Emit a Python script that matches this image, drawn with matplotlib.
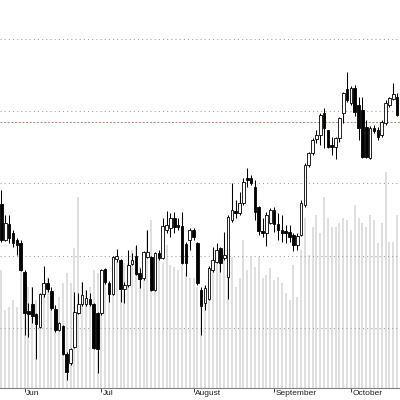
import matplotlib
matplotlib.use("Agg")
import matplotlib.pyplot as plt
import matplotlib.transforms as mtransforms
import numpy as np

# OHLC values (price units; chart has no visible price scale)
opens = [184, 148, 164, 155, 148, 145, 116, 77, 84, 74,
         61, 94, 105, 97, 79, 58, 62, 34, 25, 41,
         75, 84, 84, 89, 84, 75, 75, 119, 105, 94,
         129, 128, 99, 103, 124, 132, 115, 110, 131, 131,
         98, 135, 130, 158, 160, 170, 163, 162, 144, 148,
         158, 145, 98, 85, 89, 118, 126, 140, 130, 111,
         168, 177, 175, 185, 210, 210, 201, 181, 157, 155,
         165, 178, 164, 158, 157, 156, 153, 143, 153, 183,
         223, 235, 249, 253, 275, 258, 243, 241, 250, 275,
         299, 285, 300, 283, 278, 261, 230, 260, 258, 253,
         265, 283, 289, 291]
highs = [198, 173, 173, 158, 150, 148, 118, 85, 101, 75,
         95, 122, 110, 101, 83, 66, 63, 36, 40, 96,
         95, 106, 98, 95, 85, 76, 119, 120, 107, 132,
         139, 129, 106, 138, 135, 143, 120, 137, 158, 132,
         136, 138, 170, 177, 175, 176, 170, 176, 146, 160,
         160, 146, 101, 103, 122, 141, 145, 141, 156, 173,
         205, 188, 196, 210, 220, 213, 208, 182, 170, 176,
         180, 181, 175, 173, 163, 163, 155, 155, 188, 225,
         236, 250, 258, 275, 280, 258, 251, 251, 271, 296,
         316, 302, 303, 291, 291, 268, 262, 263, 261, 268,
         288, 291, 305, 295]
lows = [146, 147, 145, 141, 133, 117, 53, 51, 65, 29,
        60, 91, 96, 78, 56, 57, 33, 8, 23, 40,
        74, 82, 82, 82, 39, 15, 73, 104, 86, 93,
        126, 86, 85, 101, 123, 113, 100, 108, 130, 97,
        97, 128, 129, 155, 151, 155, 158, 124, 112, 138,
        148, 103, 53, 78, 88, 116, 125, 116, 128, 89,
        166, 170, 173, 183, 201, 203, 168, 153, 151, 142,
        164, 156, 148, 146, 145, 146, 137, 138, 152, 181,
        221, 233, 245, 243, 240, 240, 233, 229, 246, 265,
        286, 283, 272, 248, 230, 230, 229, 255, 248, 251,
        263, 281, 288, 272]
closes = [148, 165, 150, 145, 143, 118, 75, 74, 72, 64,
          94, 105, 99, 80, 58, 65, 34, 16, 39, 76,
          84, 93, 90, 84, 40, 39, 118, 106, 94, 131,
          132, 99, 103, 123, 128, 114, 109, 136, 136, 98,
          135, 130, 162, 163, 170, 161, 161, 125, 125, 158,
          151, 105, 82, 100, 120, 128, 138, 125, 133, 171,
          178, 175, 185, 206, 208, 205, 176, 157, 155, 173,
          178, 164, 158, 155, 155, 151, 143, 152, 185, 223,
          235, 248, 253, 273, 260, 241, 241, 250, 270, 295,
          288, 300, 276, 260, 231, 231, 260, 257, 251, 266,
          285, 290, 294, 273]
volumes = [118, 78, 81, 88, 81, 120, 81, 101, 101, 88,
           91, 98, 111, 95, 81, 91, 105, 115, 105, 140,
           191, 106, 98, 101, 118, 115, 118, 118, 101, 131,
           126, 128, 125, 125, 138, 141, 121, 128, 158, 168,
           111, 135, 125, 143, 123, 121, 118, 123, 115, 110,
           110, 101, 91, 101, 120, 128, 128, 131, 138, 141,
           131, 101, 110, 148, 118, 131, 121, 131, 110, 113,
           120, 108, 111, 105, 95, 88, 123, 91, 138, 170,
           133, 161, 173, 155, 191, 170, 161, 161, 165, 170,
           168, 158, 183, 170, 165, 161, 173, 168, 145, 165,
           216, 146, 146, 173]
month_labels = ["Jun", "Jul", "August", "September", "October"]
month_starts = [6, 26, 50, 71, 91]
grid_levels = [60, 132, 205, 277, 349]
marker_level = 266

plt.rcParams['font.family'] = ['Liberation Sans', 'DejaVu Sans']

fig = plt.figure(figsize=(4, 4), dpi=100)
ax = fig.add_axes([0, 12 / 400, 1, 388 / 400])

x = np.arange(len(opens))
o = np.array(opens, float)
c = np.array(closes, float)

# volume bars
ax.vlines(x, 0, volumes, color='#d6d6d6', lw=1.1, zorder=1)

# grid + marker line
for g in grid_levels:
    ax.axhline(g, color='#a0a0a0', lw=0.75, ls=(0, (1, 3)), zorder=2)
ax.axhline(marker_level, color='#c48a78', lw=0.75, ls=(0, (2, 1.5)), zorder=2)

# wicks
ax.vlines(x, lows, highs, color='black', lw=0.75, zorder=3)
# bodies
bottoms = np.minimum(o, c)
heights = np.maximum(np.abs(c - o), 0.8)
colors = ['white' if cc >= oo else 'black' for oo, cc in zip(o, c)]
ax.bar(x, heights, bottom=bottoms, width=0.68, color=colors,
       edgecolor='black', linewidth=0.6, zorder=4)

ax.set_xlim(-0.39, 103.77)
ax.set_ylim(0, 388)
ax.set_yticks([])
for s in ['top', 'left', 'right']:
    ax.spines[s].set_visible(False)
ax.spines['bottom'].set_color('#808080')
ax.spines['bottom'].set_linewidth(0.8)

ax.set_xticks(month_starts)
ax.set_xticklabels(month_labels)
ax.tick_params(axis='x', length=3, width=0.7, color='#404040', pad=-1.5,
               labelsize=6, labelcolor='#202020')
offset = mtransforms.ScaledTranslation(1.5 / 100, 0, fig.dpi_scale_trans)
for lab in ax.get_xticklabels():
    lab.set_horizontalalignment('left')
    lab.set_transform(lab.get_transform() + offset)

fig.savefig('out.png', dpi=100)
